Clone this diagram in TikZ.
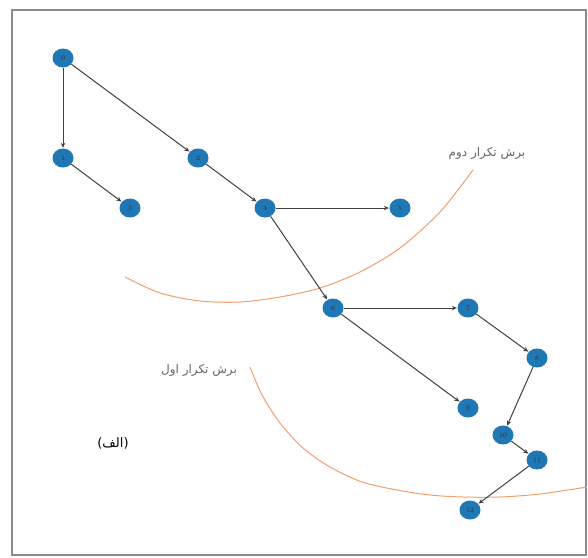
\documentclass[tikz,border=0pt]{standalone}
\usepackage{fontspec}
\usetikzlibrary{shapes.geometric,arrows.meta}
\newfontfamily\arabicfont[Script=Arabic]{DejaVu Sans}
\newfontfamily\plainsans{DejaVu Sans}
\TeXXeTstate=1
\definecolor{nodeblue}{RGB}{31,119,180}
\definecolor{cutorange}{RGB}{240,160,110}
\tikzset{
  gnode/.style={ellipse,fill=nodeblue,minimum width=21pt,minimum height=19pt,inner sep=0pt,
    font=\fontsize{7}{7}\selectfont,text=black!80},
  gedge/.style={draw=black!75,line width=1pt,-{Stealth[length=5pt,width=4.5pt]},shorten >=0.5pt},
  cutline/.style={draw=cutorange,line width=1pt},
  cutlabel/.style={font=\arabicfont\fontsize{12}{13}\selectfont,text=black!60}
}
\begin{document}
\begin{tikzpicture}[x=1pt,y=-1pt]
\useasboundingbox (0,0) rectangle (588,557);
\draw[black!45,line width=1.3pt] (12,10) rectangle (586,555);

% cut curves
\draw[cutline] plot[smooth] coordinates {(125,277) (160,293) (200,301) (240,302) (280,297) (320,288) (360,272) (400,248) (440,212) (473,170)};
\draw[cutline] plot[smooth] coordinates {(250,367) (262,395) (280,423) (303,448) (330,467) (362,482) (397,490) (430,495) (463,497) (500,497) (540,494) (587,487)};

% labels
\node[cutlabel] (lab2) at (487,153) {\beginR برش تکرار دوم\endR};
\node[cutlabel] (lab1) at (199,370) {\beginR برش تکرار اول\endR};
\node[font=\fontsize{13}{14}\selectfont,text=black] (alef) at (113,443) {{\plainsans(}{\arabicfont\beginR الف\endR}{\plainsans)}};

% nodes
\node[gnode] (n0) at (63,58) {0};
\node[gnode] (n1) at (63,158) {1};
\node[gnode] (n2) at (198,158) {2};
\node[gnode] (n3) at (130,208) {3};
\node[gnode] (n4) at (265,208) {4};
\node[gnode] (n5) at (400,208) {5};
\node[gnode] (n6) at (333,308) {6};
\node[gnode] (n7) at (468,308) {7};
\node[gnode] (n8) at (537,358) {8};
\node[gnode] (n9) at (468,408) {9};
\node[gnode] (n10) at (503,435) {10};
\node[gnode] (n11) at (537,460) {11};
\node[gnode] (n12) at (470,510) {12};

% edges
\draw[gedge] (n0) -- (n1);
\draw[gedge] (n0) -- (n2);
\draw[gedge] (n1) -- (n3);
\draw[gedge] (n2) -- (n4);
\draw[gedge] (n4) -- (n5);
\draw[gedge] (n4) -- (n6);
\draw[gedge] (n6) -- (n7);
\draw[gedge] (n6) -- (n9);
\draw[gedge] (n7) -- (n8);
\draw[gedge] (n8) -- (n10);
\draw[gedge] (n10) -- (n11);
\draw[gedge] (n11) -- (n12);
\end{tikzpicture}
\end{document}
